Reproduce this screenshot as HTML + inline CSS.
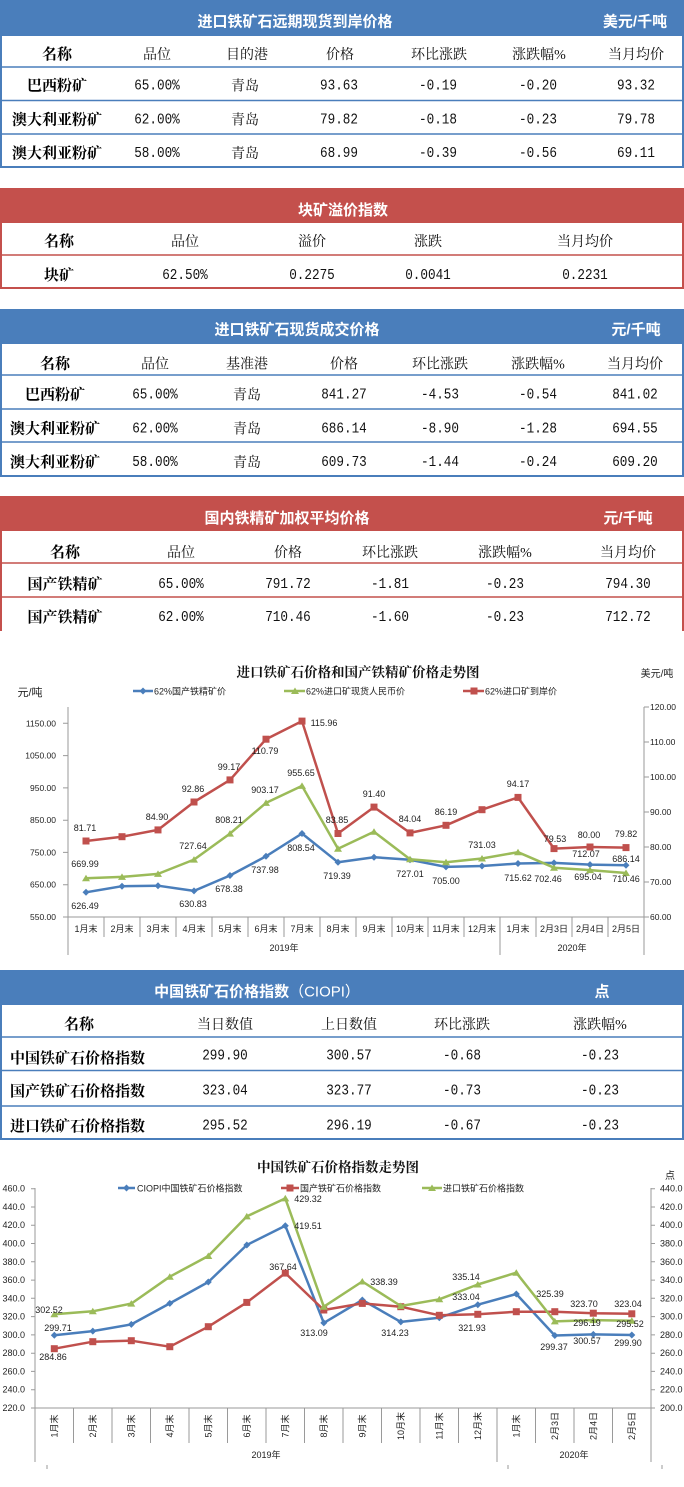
<!DOCTYPE html>
<html><head><meta charset="utf-8">
<style>
html,body{margin:0;padding:0;background:#fff;}
body{width:684px;height:1487px;overflow:hidden;}
svg{display:block;}
.h{font:bold 15px "Liberation Sans","Noto Sans CJK SC",sans-serif;fill:#fff;}
.c{font:14px "Liberation Serif","Noto Serif CJK SC",serif;fill:#111;}
.b{font:bold 15px "Liberation Serif","Noto Serif CJK SC",serif;fill:#000;}
.n{font:15px "Liberation Mono",monospace;fill:#111;}
.ax{font:8.5px "Liberation Sans","Noto Sans CJK SC",sans-serif;fill:#222;}
.dl{font:9px "Liberation Sans","Noto Sans CJK SC",sans-serif;fill:#222;}
.lg{font:9px "Liberation Sans","Noto Sans CJK SC",sans-serif;fill:#222;}
.ti{font:bold 13.5px "Liberation Serif","Noto Serif CJK SC",serif;fill:#111;}
.un{font:10px "Liberation Sans","Noto Sans CJK SC",sans-serif;fill:#222;}
</style></head>
<body>
<svg width="684" height="1487" viewBox="0 0 684 1487" xmlns="http://www.w3.org/2000/svg">
<defs>
<marker id="md" viewBox="-4 -4 8 8" markerWidth="8" markerHeight="8" refX="0" refY="0" markerUnits="userSpaceOnUse"><path d="M0,-3.5L3.5,0L0,3.5L-3.5,0Z" fill="#4a7ebb"/></marker>
<marker id="ms" viewBox="-4 -4 8 8" markerWidth="8" markerHeight="8" refX="0" refY="0" markerUnits="userSpaceOnUse"><rect x="-3.5" y="-3.5" width="7" height="7" fill="#c0504d"/></marker>
<marker id="mt" viewBox="-4 -4 8 8" markerWidth="8" markerHeight="8" refX="0" refY="0" markerUnits="userSpaceOnUse"><path d="M0,-3.5L4,3L-4,3Z" fill="#9bbb59"/></marker>
</defs>

<!-- ========== TABLE 1 ========== -->
<rect x="0" y="0" width="684" height="35" fill="#4a7ebb"/>
<text class="h" x="295" y="26.5" text-anchor="middle">进口铁矿石远期现货到岸价格</text>
<text class="h" x="635" y="26.5" text-anchor="middle">美元/千吨</text>
<rect x="1" y="35" width="682" height="132" fill="none" stroke="#4a7ebb" stroke-width="2"/>
<g stroke="#4a7ebb" stroke-width="1.5"><line x1="0" y1="67" x2="684" y2="67"/><line x1="0" y1="100.5" x2="684" y2="100.5"/><line x1="0" y1="134" x2="684" y2="134"/></g>
<g text-anchor="middle">
<text class="b" x="57" y="59">名称</text><text class="c" x="157" y="59">品位</text><text class="c" x="247" y="59">目的港</text><text class="c" x="340" y="59">价格</text><text class="c" x="439" y="59">环比涨跌</text><text class="c" x="539" y="59">涨跌幅%</text><text class="c" x="636" y="59">当月均价</text>
<text class="b" x="57" y="90.5">巴西粉矿</text><text class="n" x="157" y="89.5" textLength="45.6" lengthAdjust="spacingAndGlyphs">65.00%</text><text class="c" x="245" y="90.5">青岛</text><text class="n" x="339" y="89.5" textLength="38" lengthAdjust="spacingAndGlyphs">93.63</text><text class="n" x="438" y="89.5" textLength="38" lengthAdjust="spacingAndGlyphs">-0.19</text><text class="n" x="538" y="89.5" textLength="38" lengthAdjust="spacingAndGlyphs">-0.20</text><text class="n" x="636" y="89.5" textLength="38" lengthAdjust="spacingAndGlyphs">93.32</text>
<text class="b" x="57" y="124.5">澳大利亚粉矿</text><text class="n" x="157" y="123.5" textLength="45.6" lengthAdjust="spacingAndGlyphs">62.00%</text><text class="c" x="245" y="124.5">青岛</text><text class="n" x="339" y="123.5" textLength="38" lengthAdjust="spacingAndGlyphs">79.82</text><text class="n" x="438" y="123.5" textLength="38" lengthAdjust="spacingAndGlyphs">-0.18</text><text class="n" x="538" y="123.5" textLength="38" lengthAdjust="spacingAndGlyphs">-0.23</text><text class="n" x="636" y="123.5" textLength="38" lengthAdjust="spacingAndGlyphs">79.78</text>
<text class="b" x="57" y="158">澳大利亚粉矿</text><text class="n" x="157" y="157" textLength="45.6" lengthAdjust="spacingAndGlyphs">58.00%</text><text class="c" x="245" y="158">青岛</text><text class="n" x="339" y="157" textLength="38" lengthAdjust="spacingAndGlyphs">68.99</text><text class="n" x="438" y="157" textLength="38" lengthAdjust="spacingAndGlyphs">-0.39</text><text class="n" x="538" y="157" textLength="38" lengthAdjust="spacingAndGlyphs">-0.56</text><text class="n" x="636" y="157" textLength="38" lengthAdjust="spacingAndGlyphs">69.11</text>
</g>

<!-- ========== TABLE 2 ========== -->
<rect x="0" y="188" width="684" height="34" fill="#c4504c"/>
<text class="h" x="343" y="215" text-anchor="middle">块矿溢价指数</text>
<rect x="1" y="222" width="682" height="66" fill="none" stroke="#c4504c" stroke-width="2"/>
<line x1="0" y1="255" x2="684" y2="255" stroke="#c4504c" stroke-width="1.5"/>
<g text-anchor="middle">
<text class="b" x="59" y="246">名称</text><text class="c" x="185" y="246">品位</text><text class="c" x="312" y="246">溢价</text><text class="c" x="428" y="246">涨跌</text><text class="c" x="585" y="246">当月均价</text>
<text class="b" x="59" y="280">块矿</text><text class="n" x="185" y="279" textLength="45.6" lengthAdjust="spacingAndGlyphs">62.50%</text><text class="n" x="312" y="279" textLength="45.6" lengthAdjust="spacingAndGlyphs">0.2275</text><text class="n" x="428" y="279" textLength="45.6" lengthAdjust="spacingAndGlyphs">0.0041</text><text class="n" x="585" y="279" textLength="45.6" lengthAdjust="spacingAndGlyphs">0.2231</text>
</g>

<!-- ========== TABLE 3 ========== -->
<rect x="0" y="309" width="684" height="34" fill="#4a7ebb"/>
<text class="h" x="297" y="334.5" text-anchor="middle">进口铁矿石现货成交价格</text>
<text class="h" x="636" y="334.5" text-anchor="middle">元/千吨</text>
<rect x="1" y="343" width="682" height="133" fill="none" stroke="#4a7ebb" stroke-width="2"/>
<g stroke="#4a7ebb" stroke-width="1.5"><line x1="0" y1="375" x2="684" y2="375"/><line x1="0" y1="409" x2="684" y2="409"/><line x1="0" y1="442" x2="684" y2="442"/></g>
<g text-anchor="middle">
<text class="b" x="55" y="368.5">名称</text><text class="c" x="155" y="368.5">品位</text><text class="c" x="247" y="368.5">基准港</text><text class="c" x="344" y="368.5">价格</text><text class="c" x="440" y="368.5">环比涨跌</text><text class="c" x="538" y="368.5">涨跌幅%</text><text class="c" x="635" y="368.5">当月均价</text>
<text class="b" x="55" y="399.5">巴西粉矿</text><text class="n" x="155" y="398.5" textLength="45.6" lengthAdjust="spacingAndGlyphs">65.00%</text><text class="c" x="247" y="399.5">青岛</text><text class="n" x="344" y="398.5" textLength="45.6" lengthAdjust="spacingAndGlyphs">841.27</text><text class="n" x="440" y="398.5" textLength="38" lengthAdjust="spacingAndGlyphs">-4.53</text><text class="n" x="538" y="398.5" textLength="38" lengthAdjust="spacingAndGlyphs">-0.54</text><text class="n" x="635" y="398.5" textLength="45.6" lengthAdjust="spacingAndGlyphs">841.02</text>
<text class="b" x="55" y="433.5">澳大利亚粉矿</text><text class="n" x="155" y="432.5" textLength="45.6" lengthAdjust="spacingAndGlyphs">62.00%</text><text class="c" x="247" y="433.5">青岛</text><text class="n" x="344" y="432.5" textLength="45.6" lengthAdjust="spacingAndGlyphs">686.14</text><text class="n" x="440" y="432.5" textLength="38" lengthAdjust="spacingAndGlyphs">-8.90</text><text class="n" x="538" y="432.5" textLength="38" lengthAdjust="spacingAndGlyphs">-1.28</text><text class="n" x="635" y="432.5" textLength="45.6" lengthAdjust="spacingAndGlyphs">694.55</text>
<text class="b" x="55" y="467">澳大利亚粉矿</text><text class="n" x="155" y="466" textLength="45.6" lengthAdjust="spacingAndGlyphs">58.00%</text><text class="c" x="247" y="467">青岛</text><text class="n" x="344" y="466" textLength="45.6" lengthAdjust="spacingAndGlyphs">609.73</text><text class="n" x="440" y="466" textLength="38" lengthAdjust="spacingAndGlyphs">-1.44</text><text class="n" x="538" y="466" textLength="38" lengthAdjust="spacingAndGlyphs">-0.24</text><text class="n" x="635" y="466" textLength="45.6" lengthAdjust="spacingAndGlyphs">609.20</text>
</g>

<!-- ========== TABLE 4 ========== -->
<rect x="0" y="496" width="684" height="35" fill="#c4504c"/>
<text class="h" x="287" y="523" text-anchor="middle">国内铁精矿加权平均价格</text>
<text class="h" x="628" y="523" text-anchor="middle">元/千吨</text>
<g stroke="#c4504c" stroke-width="2"><line x1="1" y1="531" x2="1" y2="631"/><line x1="683" y1="531" x2="683" y2="631"/></g>
<g stroke="#c4504c" stroke-width="1.5"><line x1="0" y1="563" x2="684" y2="563"/><line x1="0" y1="597" x2="684" y2="597"/></g>
<g text-anchor="middle">
<text class="b" x="65" y="557">名称</text><text class="c" x="181" y="557">品位</text><text class="c" x="288" y="557">价格</text><text class="c" x="390" y="557">环比涨跌</text><text class="c" x="505" y="557">涨跌幅%</text><text class="c" x="628" y="557">当月均价</text>
<text class="b" x="65" y="589">国产铁精矿</text><text class="n" x="181" y="588" textLength="45.6" lengthAdjust="spacingAndGlyphs">65.00%</text><text class="n" x="288" y="588" textLength="45.6" lengthAdjust="spacingAndGlyphs">791.72</text><text class="n" x="390" y="588" textLength="38" lengthAdjust="spacingAndGlyphs">-1.81</text><text class="n" x="505" y="588" textLength="38" lengthAdjust="spacingAndGlyphs">-0.23</text><text class="n" x="628" y="588" textLength="45.6" lengthAdjust="spacingAndGlyphs">794.30</text>
<text class="b" x="65" y="622">国产铁精矿</text><text class="n" x="181" y="621" textLength="45.6" lengthAdjust="spacingAndGlyphs">62.00%</text><text class="n" x="288" y="621" textLength="45.6" lengthAdjust="spacingAndGlyphs">710.46</text><text class="n" x="390" y="621" textLength="38" lengthAdjust="spacingAndGlyphs">-1.60</text><text class="n" x="505" y="621" textLength="38" lengthAdjust="spacingAndGlyphs">-0.23</text><text class="n" x="628" y="621" textLength="45.6" lengthAdjust="spacingAndGlyphs">712.72</text>
</g>

<!-- ========== CHART 1 ========== -->
<text class="ti" x="358" y="677" text-anchor="middle">进口铁矿石价格和国产铁精矿价格走势图</text>
<text class="un" x="657" y="677" text-anchor="middle">美元/吨</text>
<text class="un" x="30" y="696" text-anchor="middle" style="font-size:11px">元/吨</text>
<path d="M133,691H143H153" stroke="#4a7ebb" stroke-width="2.5" fill="none" marker-mid="url(#md)"/>
<text class="lg" x="154" y="694.5">62%国产铁精矿价</text>
<path d="M284,691H295H305" stroke="#9bbb59" stroke-width="2.5" fill="none" marker-mid="url(#mt)"/>
<text class="lg" x="306" y="694.5">62%进口矿现货人民币价</text>
<path d="M463,691H474H484" stroke="#c0504d" stroke-width="2.5" fill="none" marker-mid="url(#ms)"/>
<text class="lg" x="485" y="694.5">62%进口矿到岸价</text>
<g stroke="#9a9a9a" stroke-width="1" fill="none">
<line x1="68" y1="707" x2="68" y2="955"/>
<line x1="644" y1="707" x2="644" y2="955"/>
<line x1="68" y1="917" x2="644" y2="917"/>
<path d="M63,723.3H68M63,755.6H68M63,787.9H68M63,820.2H68M63,852.4H68M63,884.7H68M63,917H68"/>
<path d="M644,707H649M644,742H649M644,777H649M644,812H649M644,847H649M644,882H649M644,917H649"/>
<path d="M104,917V937M140,917V937M176,917V937M212,917V937M248,917V937M284,917V937M320,917V937M356,917V937M392,917V937M428,917V937M464,917V937M536,917V937M572,917V937M608,917V937"/>
<line x1="500" y1="917" x2="500" y2="955"/>
</g>
<g class="ax" text-anchor="end">
<text x="56" y="726.3">1150.00</text><text x="56" y="758.6">1050.00</text><text x="56" y="790.9">950.00</text><text x="56" y="823.2">850.00</text><text x="56" y="855.4">750.00</text><text x="56" y="887.7">650.00</text><text x="56" y="920">550.00</text>
</g>
<g class="ax">
<text x="650" y="710">120.00</text><text x="650" y="745">110.00</text><text x="650" y="780">100.00</text><text x="650" y="815">90.00</text><text x="650" y="850">80.00</text><text x="650" y="885">70.00</text><text x="650" y="920">60.00</text>
</g>
<g class="lg" text-anchor="middle">
<text x="86" y="932">1月末</text><text x="122" y="932">2月末</text><text x="158" y="932">3月末</text><text x="194" y="932">4月末</text><text x="230" y="932">5月末</text><text x="266" y="932">6月末</text><text x="302" y="932">7月末</text><text x="338" y="932">8月末</text><text x="374" y="932">9月末</text><text x="410" y="932">10月末</text><text x="446" y="932">11月末</text><text x="482" y="932">12月末</text><text x="518" y="932">1月末</text><text x="554" y="932">2月3日</text><text x="590" y="932">2月4日</text><text x="626" y="932">2月5日</text>
<text x="284" y="951">2019年</text><text x="572" y="951">2020年</text>
</g>
<g fill="none" stroke-width="2.5" stroke-linejoin="round">
<polyline stroke="#4a7ebb" marker-start="url(#md)" marker-mid="url(#md)" marker-end="url(#md)" points="86,892.3 122,886.2 158,885.7 194,890.9 230,875.5 266,856.3 302,833.5 338,862.3 374,857.2 410,859.8 446,866.9 482,866.0 518,863.5 554,862.9 590,864.6 626,865.2"/>
<polyline stroke="#9bbb59" marker-start="url(#mt)" marker-mid="url(#mt)" marker-end="url(#mt)" points="86,878.2 122,876.9 158,873.9 194,859.6 230,833.6 266,802.9 302,785.9 338,848.8 374,831.8 410,859.2 446,862.2 482,858.5 518,852.2 554,867.7 590,870.1 626,873.0"/>
<polyline stroke="#c0504d" marker-start="url(#ms)" marker-mid="url(#ms)" marker-end="url(#ms)" points="86,841.0 122,836.7 158,829.9 194,802.0 230,779.9 266,739.2 302,721.1 338,833.5 374,807.1 410,832.9 446,825.3 482,809.7 518,797.4 554,848.6 590,847.0 626,847.6"/>
</g>
<g class="dl" text-anchor="middle">
<text x="85" y="831">81.71</text><text x="157" y="820">84.90</text><text x="193" y="792">92.86</text><text x="229" y="770">99.17</text><text x="265" y="754">110.79</text><text x="324" y="726">115.96</text><text x="337" y="823">83.85</text><text x="374" y="797">91.40</text><text x="410" y="822">84.04</text><text x="446" y="815">86.19</text><text x="518" y="787">94.17</text><text x="555" y="842">79.53</text><text x="589" y="838">80.00</text><text x="626" y="837">79.82</text>
<text x="85" y="867">669.99</text><text x="193" y="849">727.64</text><text x="229" y="823">808.21</text><text x="265" y="793">903.17</text><text x="301" y="776">955.65</text><text x="482" y="848">731.03</text><text x="548" y="882">702.46</text><text x="588" y="880">695.04</text><text x="626" y="882">710.46</text>
<text x="85" y="909">626.49</text><text x="193" y="907">630.83</text><text x="229" y="892">678.38</text><text x="265" y="873">737.98</text><text x="301" y="851">808.54</text><text x="337" y="879">719.39</text><text x="410" y="877">727.01</text><text x="446" y="884">705.00</text><text x="518" y="881">715.62</text><text x="586" y="857">712.07</text><text x="626" y="862">686.14</text>
</g>

<!-- ========== TABLE 5 ========== -->
<rect x="0" y="970" width="684" height="34" fill="#4a7ebb"/>
<text class="h" x="257" y="996.5" text-anchor="middle">中国铁矿石价格指数<tspan style="font-weight:normal">（CIOPI）</tspan></text>
<text class="h" x="602" y="996.5" text-anchor="middle">点</text>
<rect x="1" y="1004" width="682" height="135" fill="none" stroke="#4a7ebb" stroke-width="2"/>
<g stroke="#4a7ebb" stroke-width="1.5"><line x1="0" y1="1037" x2="684" y2="1037"/><line x1="0" y1="1070.5" x2="684" y2="1070.5"/><line x1="0" y1="1106" x2="684" y2="1106"/></g>
<g text-anchor="middle">
<text class="b" x="79" y="1029">名称</text><text class="c" x="225" y="1029">当日数值</text><text class="c" x="349" y="1029">上日数值</text><text class="c" x="462" y="1029">环比涨跌</text><text class="c" x="600" y="1029">涨跌幅%</text>
<text class="n" x="225" y="1059.5" textLength="45.6" lengthAdjust="spacingAndGlyphs">299.90</text><text class="n" x="349" y="1059.5" textLength="45.6" lengthAdjust="spacingAndGlyphs">300.57</text><text class="n" x="462" y="1059.5" textLength="38" lengthAdjust="spacingAndGlyphs">-0.68</text><text class="n" x="600" y="1059.5" textLength="38" lengthAdjust="spacingAndGlyphs">-0.23</text>
<text class="n" x="225" y="1094.5" textLength="45.6" lengthAdjust="spacingAndGlyphs">323.04</text><text class="n" x="349" y="1094.5" textLength="45.6" lengthAdjust="spacingAndGlyphs">323.77</text><text class="n" x="462" y="1094.5" textLength="38" lengthAdjust="spacingAndGlyphs">-0.73</text><text class="n" x="600" y="1094.5" textLength="38" lengthAdjust="spacingAndGlyphs">-0.23</text>
<text class="n" x="225" y="1129.5" textLength="45.6" lengthAdjust="spacingAndGlyphs">295.52</text><text class="n" x="349" y="1129.5" textLength="45.6" lengthAdjust="spacingAndGlyphs">296.19</text><text class="n" x="462" y="1129.5" textLength="38" lengthAdjust="spacingAndGlyphs">-0.67</text><text class="n" x="600" y="1129.5" textLength="38" lengthAdjust="spacingAndGlyphs">-0.23</text>
</g>
<text class="b" x="10" y="1063">中国铁矿石价格指数</text>
<text class="b" x="10" y="1096">国产铁矿石价格指数</text>
<text class="b" x="10" y="1131">进口铁矿石价格指数</text>

<!-- ========== CHART 2 ========== -->
<text class="ti" x="338" y="1172" text-anchor="middle">中国铁矿石价格指数走势图</text>
<text class="un" x="670" y="1179" text-anchor="middle">点</text>
<path d="M118,1188H126.5H135" stroke="#4a7ebb" stroke-width="2.5" fill="none" marker-mid="url(#md)"/>
<text class="lg" x="137" y="1191.5">CIOPI中国铁矿石价格指数</text>
<path d="M281,1188H290H299" stroke="#c0504d" stroke-width="2.5" fill="none" marker-mid="url(#ms)"/>
<text class="lg" x="300" y="1191.5">国产铁矿石价格指数</text>
<path d="M422,1188H432H442" stroke="#9bbb59" stroke-width="2.5" fill="none" marker-mid="url(#mt)"/>
<text class="lg" x="443" y="1191.5">进口铁矿石价格指数</text>
<g stroke="#9a9a9a" stroke-width="1" fill="none">
<line x1="35" y1="1188" x2="35" y2="1462"/>
<line x1="651" y1="1188" x2="651" y2="1462"/>
<line x1="31" y1="1408" x2="651" y2="1408"/>
<path d="M31,1188.7H35M31,1207H35M31,1225.2H35M31,1243.5H35M31,1261.8H35M31,1280.1H35M31,1298.3H35M31,1316.6H35M31,1334.9H35M31,1353.2H35M31,1371.4H35M31,1389.7H35"/>
<path d="M651,1188.7H655M651,1207H655M651,1225.2H655M651,1243.5H655M651,1261.8H655M651,1280.1H655M651,1298.3H655M651,1316.6H655M651,1334.9H655M651,1353.2H655M651,1371.4H655M651,1389.7H655M651,1408H655"/>
<path d="M73.5,1408V1443M112,1408V1443M150.5,1408V1443M189,1408V1443M227.5,1408V1443M266,1408V1443M304.5,1408V1443M343,1408V1443M381.5,1408V1443M420,1408V1443M458.5,1408V1443M535.5,1408V1443M574,1408V1443M612.5,1408V1443"/>
<line x1="497" y1="1408" x2="497" y2="1462"/>
<path d="M47,1465V1469M508,1465V1469M662,1465V1469"/>
</g>
<g class="ax" text-anchor="end" style="font-size:9px">
<text x="25" y="1191.7">460.0</text><text x="25" y="1210">440.0</text><text x="25" y="1228.2">420.0</text><text x="25" y="1246.5">400.0</text><text x="25" y="1264.8">380.0</text><text x="25" y="1283.1">360.0</text><text x="25" y="1301.3">340.0</text><text x="25" y="1319.6">320.0</text><text x="25" y="1337.9">300.0</text><text x="25" y="1356.2">280.0</text><text x="25" y="1374.4">260.0</text><text x="25" y="1392.7">240.0</text><text x="25" y="1411">220.0</text>
</g>
<g class="ax" style="font-size:9px">
<text x="660" y="1191.7">440.0</text><text x="660" y="1210">420.0</text><text x="660" y="1228.2">400.0</text><text x="660" y="1246.5">380.0</text><text x="660" y="1264.8">360.0</text><text x="660" y="1283.1">340.0</text><text x="660" y="1301.3">320.0</text><text x="660" y="1319.6">300.0</text><text x="660" y="1337.9">280.0</text><text x="660" y="1356.2">260.0</text><text x="660" y="1374.4">240.0</text><text x="660" y="1392.7">220.0</text><text x="660" y="1411">200.0</text>
</g>
<g class="lg" text-anchor="middle">
<text transform="translate(57.3,1426) rotate(-90)">1月末</text>
<text transform="translate(95.8,1426) rotate(-90)">2月末</text>
<text transform="translate(134.3,1426) rotate(-90)">3月末</text>
<text transform="translate(172.8,1426) rotate(-90)">4月末</text>
<text transform="translate(211.3,1426) rotate(-90)">5月末</text>
<text transform="translate(249.8,1426) rotate(-90)">6月末</text>
<text transform="translate(288.3,1426) rotate(-90)">7月末</text>
<text transform="translate(326.8,1426) rotate(-90)">8月末</text>
<text transform="translate(365.3,1426) rotate(-90)">9月末</text>
<text transform="translate(403.8,1426) rotate(-90)">10月末</text>
<text transform="translate(442.3,1426) rotate(-90)">11月末</text>
<text transform="translate(480.8,1426) rotate(-90)">12月末</text>
<text transform="translate(519.3,1426) rotate(-90)">1月末</text>
<text transform="translate(557.8,1426) rotate(-90)">2月3日</text>
<text transform="translate(596.3,1426) rotate(-90)">2月4日</text>
<text transform="translate(634.8,1426) rotate(-90)">2月5日</text>
<text x="266" y="1458">2019年</text><text x="574" y="1458">2020年</text>
</g>
<g fill="none" stroke-width="2.5" stroke-linejoin="round">
<polyline stroke="#4a7ebb" marker-start="url(#md)" marker-mid="url(#md)" marker-end="url(#md)" points="54.3,1335.2 92.8,1331.1 131.3,1324.4 169.8,1303.4 208.3,1282.0 246.8,1245.0 285.3,1225.7 323.8,1322.9 362.3,1300.0 400.8,1321.9 439.3,1317.7 477.8,1304.7 516.3,1294.0 554.8,1335.5 593.3,1334.4 631.8,1335.0"/>
<polyline stroke="#c0504d" marker-start="url(#ms)" marker-mid="url(#ms)" marker-end="url(#ms)" points="54.3,1348.7 92.8,1341.7 131.3,1340.7 169.8,1346.7 208.3,1326.7 246.8,1302.4 285.3,1273.1 323.8,1310.0 362.3,1303.4 400.8,1306.7 439.3,1315.3 477.8,1314.3 516.3,1311.7 554.8,1311.7 593.3,1313.2 631.8,1313.8"/>
<polyline stroke="#9bbb59" marker-start="url(#mt)" marker-mid="url(#mt)" marker-end="url(#mt)" points="54.3,1314.3 92.8,1311.3 131.3,1303.6 169.8,1276.7 208.3,1256.0 246.8,1216.4 285.3,1198.4 323.8,1306.7 362.3,1281.5 400.8,1306.0 439.3,1299.3 477.8,1284.5 516.3,1272.7 554.8,1321.4 593.3,1320.1 631.8,1320.7"/>
</g>
<g class="dl" text-anchor="middle">
<text x="49" y="1313">302.52</text><text x="58" y="1331">299.71</text><text x="53" y="1360">284.86</text>
<text x="308" y="1202">429.32</text><text x="308" y="1229">419.51</text><text x="283" y="1270">367.64</text>
<text x="314" y="1336">313.09</text><text x="384" y="1285">338.39</text><text x="395" y="1336">314.23</text>
<text x="466" y="1280">335.14</text><text x="466" y="1300">333.04</text><text x="472" y="1331">321.93</text>
<text x="550" y="1297">325.39</text><text x="554" y="1350">299.37</text>
<text x="584" y="1307">323.70</text><text x="587" y="1326">296.19</text><text x="587" y="1344">300.57</text>
<text x="628" y="1307">323.04</text><text x="630" y="1327">295.52</text><text x="628" y="1346">299.90</text>
</g>
</svg>
</body></html>
